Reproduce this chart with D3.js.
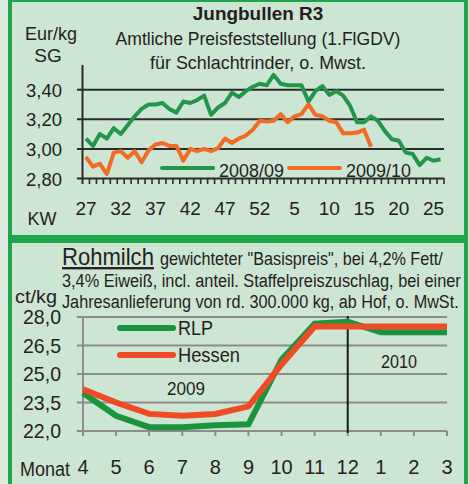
<!DOCTYPE html>
<html lang="de">
<head>
<meta charset="utf-8">
<style>
body {
  margin: 0;
  background: #dcece0;
  font-family: 'Liberation Sans Narrow', 'Arial Narrow', 'Liberation Sans', sans-serif;
}
svg text { fill: #231f20; }
.panel { fill: #cde5d3; stroke: #1fa64b; stroke-width: 4; }
</style>
<title>Jungbullen R3 / Rohmilch</title>
<script src="https://cdn.jsdelivr.net/npm/d3@7"></script>
</head>
<body>
<div id="chart"></div>
<script type="text/javascript">

// ---- top chart: Jungbullen R3, weekly prices (Eur/kg SG)
var weeks = [27,28,29,30,31,32,33,34,35,36,37,38,39,40,41,42,43,44,45,46,47,48,49,50,51,52,
             1,2,3,4,5,6,7,8,9,10,11,12,13,14,15,16,17,18,19,20,21,22,23,24,25,26];
var weekLabels = [27,32,37,42,47,52,5,10,15,20,25];
var season0809 = [3.07,3.02,3.10,3.07,3.14,3.10,3.16,3.22,3.27,3.30,3.30,3.31,3.27,3.245,3.32,3.31,
                  3.33,3.36,3.23,3.28,3.31,3.38,3.35,3.39,3.42,3.44,3.43,3.50,3.44,3.43,3.43,3.43,
                  3.32,3.39,3.425,3.365,3.39,3.36,3.29,3.18,3.18,3.22,3.19,3.12,3.065,3.055,2.975,
                  2.965,2.89,2.94,2.92,2.93];
var season0910 = [2.945,2.88,2.90,2.83,2.975,2.985,2.94,2.985,2.91,2.99,3.03,3.04,3.02,3.02,2.92,3.00,
                  2.985,3.00,2.985,3.005,3.07,3.04,3.07,3.09,3.13,3.19,3.185,3.19,3.235,3.18,3.22,
                  3.235,3.30,3.23,3.22,3.19,3.18,3.105,3.105,3.11,3.13,3.015];
var topTicks = [2.80,3.00,3.20,3.40];

// ---- bottom chart: Rohmilch (ct/kg)
var months = ["4","5","6","7","8","9","10","11","12","1","2","3"];
var rlp    = [24.0,22.8,22.2,22.2,22.3,22.35,25.75,27.65,27.75,27.2,27.2,27.2];
var hessen = [24.2,23.5,22.9,22.8,22.9,23.3,25.5,27.5,27.5,27.5,27.5,27.5];
var bottomTicks = [22.0,23.5,25.0,26.5,28.0];

var green = "#23964a", orange = "#f26b24";
var green2 = "#1b9440", orange2 = "#f04b24";
var fmt2 = function(v){ return v.toFixed(2).replace(".", ","); };
var fmt1 = function(v){ return v.toFixed(1).replace(".", ","); };

var svg = d3.select("#chart").append("svg")
    .attr("width", 469)
    .attr("height", 484);

// narrow-looking labels: squeeze the text horizontally to a given width
function squeeze(t, x, y, width){
  var w0 = t.node().getComputedTextLength();
  var sx = width ? width / w0 : 1;
  t.attr("transform", "translate(" + x + "," + y + ") scale(" + sx + ",1)");
  return t;
}
function label(g, x, y, size, txt, width, anchor){
  var t = g.append("text")
      .attr("text-anchor", anchor || "start")
      .style("font-size", size + "px")
      .text(txt);
  return squeeze(t, x, y, width);
}

svg.append("rect").attr("class", "panel")
    .attr("x", 10).attr("y", 0).attr("width", 456).attr("height", 237);
svg.append("rect").attr("class", "panel")
    .attr("x", 10).attr("y", 241).attr("width", 456).attr("height", 250);

// ================= top chart =================
var x1 = d3.scaleBand().domain(weeks).range([82.5, 444]);
var y1 = d3.scaleLinear().domain([2.8, 3.56]).range([178.5, 66]);
var cx1 = function(w){ return x1(w) + x1.bandwidth() / 2; };

var topG = svg.append("g");

label(topG, 258, 20, 19, "Jungbullen R3", 121, "middle").style("font-weight", "bold");
label(topG, 258, 45, 19, "Amtliche Preisfeststellung (1.FlGDV)", 285, "middle");
label(topG, 258, 69, 19, "für Schlachtrinder, o. Mwst.", 216, "middle");
label(topG, 51, 40, 19, "Eur/kg", 52, "middle");
label(topG, 48, 62, 19, "SG", null, "middle");
label(topG, 42, 225, 19, "KW", 29, "middle");

// gridlines + y axis
topG.selectAll(".grid1").data(topTicks).enter().append("line")
    .attr("x1", 77).attr("x2", 444)
    .attr("y1", function(d){ return y1(d); })
    .attr("y2", function(d){ return y1(d); })
    .attr("stroke", "#2b2b2b").attr("stroke-width", 2);
topG.append("line").attr("x1", 82.5).attr("x2", 82.5)
    .attr("y1", y1.range()[1] - 1).attr("y2", 184)
    .attr("stroke", "#2b2b2b").attr("stroke-width", 2);
topG.selectAll(".ylab1").data(topTicks).enter().append("text")
    .attr("text-anchor", "end").style("font-size", "19px")
    .text(fmt2)
    .each(function(d){ squeeze(d3.select(this), 62, y1(d) + 7, 36); });

// x ticks at every week boundary
topG.selectAll(".tick1").data(weeks).enter().append("line")
    .attr("x1", function(d){ return x1(d) + x1.bandwidth(); })
    .attr("x2", function(d){ return x1(d) + x1.bandwidth(); })
    .attr("y1", 178).attr("y2", 184)
    .attr("stroke", "#2b2b2b").attr("stroke-width", 1.6);
topG.selectAll(".xlab1").data(weekLabels).enter().append("text")
    .attr("x", function(d){ return cx1(d); }).attr("y", 215)
    .attr("text-anchor", "middle").style("font-size", "19px")
    .text(function(d){ return d; });

var line1 = d3.line()
    .x(function(d, i){ return cx1(weeks[i]); })
    .y(function(d){ return y1(d); });

topG.append("path").datum(season0809).attr("d", line1)
    .attr("fill", "none").attr("stroke", green).attr("stroke-width", 4)
    .attr("stroke-linejoin", "round");
topG.append("path").datum(season0910).attr("d", line1)
    .attr("fill", "none").attr("stroke", orange).attr("stroke-width", 4)
    .attr("stroke-linejoin", "round");

// legend
var leg1 = [{name: "2008/09", c: green, x: 162}, {name: "2009/10", c: orange, x: 289}];
leg1.forEach(function(l){
  topG.append("line").attr("x1", l.x).attr("x2", l.x + 51)
      .attr("y1", 168).attr("y2", 168)
      .attr("stroke", l.c).attr("stroke-width", 4).attr("stroke-linecap", "round");
  label(topG, l.x + 57, 177, 19, l.name, 65);
});

// ================= bottom chart =================
var x2 = d3.scalePoint().domain(months).range([83, 447]);
var y2 = d3.scaleLinear().domain([22, 28]).range([431, 317]);

var bot = svg.append("g");

label(bot, 62, 265, 23, "Rohmilch", 92).style("text-decoration", "underline");
label(bot, 160, 265, 18, "gewichteter \"Basispreis\", bei 4,2% Fett/", 283);
label(bot, 62, 287, 18, "3,4% Eiweiß, incl. anteil. Staffelpreiszuschlag, bei einer", 399);
label(bot, 62, 308, 18, "Jahresanlieferung von rd. 300.000 kg, ab Hof, o. MwSt.", 397);
label(bot, 36, 303, 19, "ct/kg", 42, "middle");
label(bot, 45, 476, 20, "Monat", 50, "middle");

bot.selectAll(".grid2").data(bottomTicks).enter().append("line")
    .attr("x1", 77).attr("x2", 447)
    .attr("y1", function(d){ return y2(d); })
    .attr("y2", function(d){ return y2(d); })
    .attr("stroke", "#8c8c8c").attr("stroke-width", 2);
bot.append("line").attr("x1", 83).attr("x2", 83)
    .attr("y1", y2(28)).attr("y2", 436)
    .attr("stroke", "#8c8c8c").attr("stroke-width", 2);
bot.selectAll(".tick2").data(months).enter().append("line")
    .attr("x1", function(d){ return x2(d); })
    .attr("x2", function(d){ return x2(d); })
    .attr("y1", 431).attr("y2", 436)
    .attr("stroke", "#8c8c8c").attr("stroke-width", 2);
bot.selectAll(".ylab2").data(bottomTicks).enter().append("text")
    .attr("text-anchor", "end").style("font-size", "20px")
    .text(fmt1)
    .each(function(d){ squeeze(d3.select(this), 61, y2(d) + 7, 38); });
bot.selectAll(".xlab2").data(months).enter().append("text")
    .attr("x", function(d){ return x2(d); }).attr("y", 474)
    .attr("text-anchor", "middle").style("font-size", "20px")
    .text(function(d){ return d; });

// year separator at month 12
bot.append("line").attr("x1", x2("12")).attr("x2", x2("12"))
    .attr("y1", 316).attr("y2", 433)
    .attr("stroke", "#1a1a1a").attr("stroke-width", 2);

var line2 = d3.line()
    .x(function(d, i){ return x2(months[i]); })
    .y(function(d){ return y2(d); });

bot.append("path").datum(rlp).attr("d", line2)
    .attr("fill", "none").attr("stroke", green2).attr("stroke-width", 6);
bot.append("path").datum(hessen).attr("d", line2)
    .attr("fill", "none").attr("stroke", orange2).attr("stroke-width", 6);

var leg2 = [{name: "RLP", c: green2, y: 328, w: 35}, {name: "Hessen", c: orange2, y: 355, w: 62}];
leg2.forEach(function(l){
  bot.append("line").attr("x1", 120).attr("x2", 173)
      .attr("y1", l.y).attr("y2", l.y)
      .attr("stroke", l.c).attr("stroke-width", 6).attr("stroke-linecap", "round");
  label(bot, 178, l.y + 7, 20, l.name, l.w);
});

label(bot, 186, 395, 19, "2009", 38, "middle");
label(bot, 399, 368, 19, "2010", 36, "middle");

</script>
</body>
</html>
